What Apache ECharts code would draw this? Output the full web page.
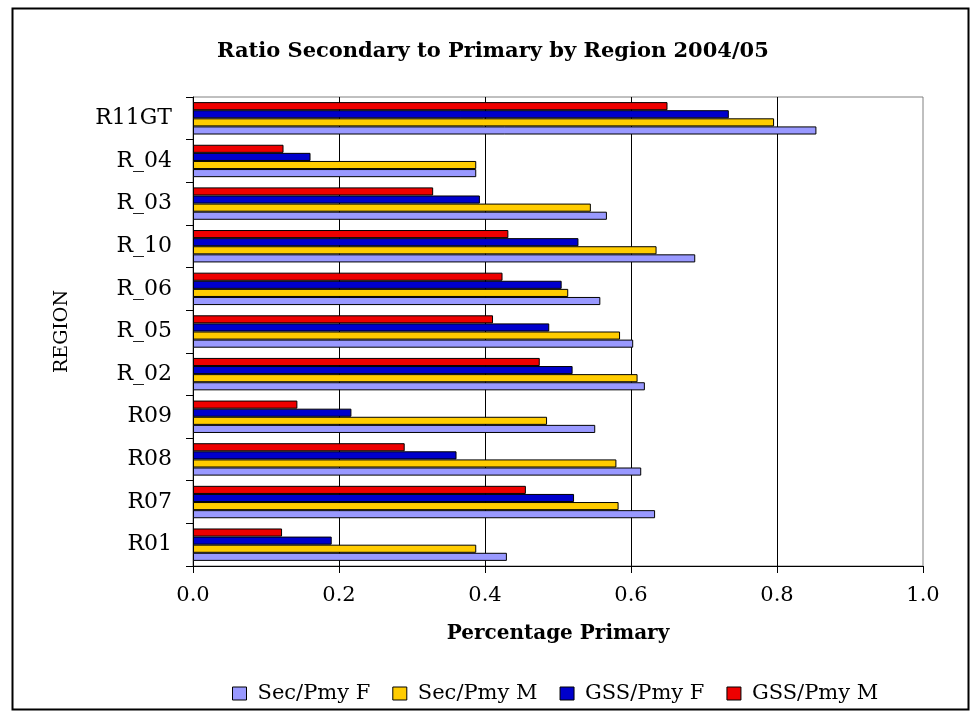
<!DOCTYPE html>
<html>
<head>
<meta charset="utf-8">
<title>Ratio Secondary to Primary by Region 2004/05</title>
<script src="https://cdn.jsdelivr.net/npm/echarts@6/dist/echarts.min.js"></script>
<style>
  html, body { margin: 0; padding: 0; background: #ffffff; }
  #chart { width: 971px; height: 713px; }
</style>
</head>
<body>
<div id="chart"></div>
<script>
// Regions, listed bottom to top on the category axis
const regions = ['R01', 'R07', 'R08', 'R09', 'R_02', 'R_05', 'R_06', 'R_10', 'R_03', 'R_04', 'R11GT'];

// Ratios per region (same order as regions)
const secPmyF = [0.430, 0.633, 0.614, 0.551, 0.619, 0.603, 0.558, 0.688, 0.567, 0.388, 0.854];
const secPmyM = [0.388, 0.583, 0.580, 0.485, 0.609, 0.585, 0.514, 0.635, 0.545, 0.388, 0.796];
const gssPmyF = [0.190, 0.522, 0.361, 0.217, 0.520, 0.488, 0.505, 0.528, 0.393, 0.161, 0.734];
const gssPmyM = [0.122, 0.456, 0.290, 0.143, 0.475, 0.411, 0.424, 0.432, 0.329, 0.124, 0.650];

const seriesNames = ['Sec/Pmy F', 'Sec/Pmy M', 'GSS/Pmy F', 'GSS/Pmy M'];
const seriesColors = ['#9999FF', '#FFCC00', '#0000CC', '#EE0000'];
const seriesValues = [secPmyF, secPmyM, gssPmyF, gssPmyM];

// Axis ticks
const xMin = 0, xMax = 1, xStep = 0.2;

const FONT = 'DejaVu Serif';

const chart = echarts.init(document.getElementById('chart'), null, { renderer: 'canvas' });

// Within each band the first series sits at the top, so feed them in reverse
// to stack Sec/Pmy F at the bottom and GSS/Pmy M at the top.
const series = seriesNames.map((name, i) => ({
  name: name,
  type: 'bar',
  data: seriesValues[i],
  barGap: '0%',
  barCategoryGap: '24%',
  itemStyle: { color: seriesColors[i], borderColor: '#000000', borderWidth: 1 },
  emphasis: { disabled: true },
  animation: false
})).reverse();

chart.setOption({
  animation: false,
  backgroundColor: '#ffffff',
  title: {
    text: 'Ratio Secondary to Primary by Region 2004/05',
    left: 212,
    top: 36,
    textStyle: { fontFamily: FONT, fontWeight: 'bold', fontSize: 21, color: '#000000' }
  },
  legend: {
    data: seriesNames,
    left: 227,
    top: 678,
    icon: 'rect',
    itemWidth: 14,
    itemHeight: 13,
    itemGap: 22,
    itemStyle: { borderColor: '#000000', borderWidth: 1 },
    textStyle: { fontFamily: FONT, fontSize: 21, color: '#000000', padding: [0, 0, 0, 6] },
    selectedMode: false
  },
  grid: {
    left: 193,
    right: 48,
    top: 97,
    bottom: 147,
    show: true,
    borderColor: '#808080',
    borderWidth: 1,
    backgroundColor: 'transparent'
  },
  xAxis: {
    type: 'value',
    min: xMin,
    max: xMax,
    interval: xStep,
    name: 'Percentage Primary',
    nameLocation: 'middle',
    nameGap: 58,
    nameTextStyle: { fontFamily: FONT, fontWeight: 'bold', fontSize: 20, color: '#000000' },
    axisLine: { show: true, lineStyle: { color: '#000000', width: 1 } },
    axisTick: { show: true, length: 7, lineStyle: { color: '#000000' } },
    axisLabel: {
      fontFamily: FONT, fontSize: 21, color: '#000000', margin: 19,
      formatter: v => v.toFixed(1)
    },
    splitLine: { show: true, showMaxLine: false, lineStyle: { color: '#000000', width: 1 } }
  },
  yAxis: {
    type: 'category',
    data: regions,
    name: 'REGION',
    nameLocation: 'middle',
    nameRotate: 90,
    nameGap: 121,
    nameTextStyle: { fontFamily: FONT, fontSize: 19, color: '#000000' },
    axisLine: { show: true, lineStyle: { color: '#000000', width: 1 } },
    axisTick: { show: true, length: 7, inside: false, lineStyle: { color: '#000000' } },
    axisLabel: { fontFamily: FONT, fontSize: 22, color: '#000000', margin: 21 },
    splitLine: { show: false }
  },
  graphic: [{
    type: 'rect',
    shape: { x: 12.5, y: 8.5, width: 956, height: 701 },
    style: { fill: 'none', stroke: '#000000', lineWidth: 2 },
    silent: true,
    z: 100
  }],
  series: series
});
</script>
</body>
</html>
